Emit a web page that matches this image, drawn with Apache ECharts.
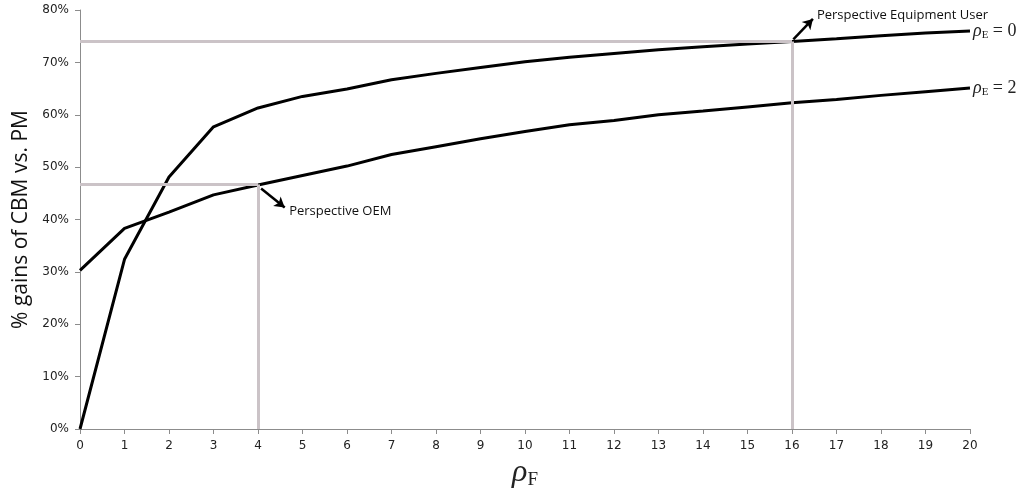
<!DOCTYPE html>
<html>
<head>
<meta charset="utf-8">
<script src="https://cdn.jsdelivr.net/npm/echarts@6/dist/echarts.min.js"></script>
<style>
  html, body { margin: 0; padding: 0; background: #fff; }
  #chart { width: 1032px; height: 492px; }
</style>
</head>
<body>
<div id="chart"></div>
<script>
// rho_F values on the x axis
var rhoF = [0,1,2,3,4,5,6,7,8,9,10,11,12,13,14,15,16,17,18,19,20];
// % gains, rho_E = 0
var gainsE0 = [0,32.4,48.1,57.7,61.3,63.5,64.9,66.7,67.9,69.0,70.1,71.0,71.7,72.4,73.0,73.5,74.0,74.5,75.1,75.6,76.0];
// % gains, rho_E = 2
var gainsE2 = [30.3,38.3,41.4,44.7,46.6,48.4,50.2,52.4,53.9,55.4,56.8,58.1,58.9,60.0,60.7,61.5,62.3,62.9,63.7,64.4,65.1];
var yTicks = [0,10,20,30,40,50,60,70,80];

// reference (perspective) points
var userPoint = [16, 74.0];
var oemPoint = [4, 46.7];

var pairs = function (ys) { return rhoF.map(function (x, i) { return [x, ys[i]]; }); };

var chart = echarts.init(document.getElementById('chart'));

var grey = '#cbc3c7';
var refLine = {lineStyle: {color: grey, width: 3, type: 'solid'}};

var endRich = {
  r: {fontFamily: 'Liberation Serif', fontStyle: 'italic', fontSize: 18, color: '#222'},
  s: {fontFamily: 'Liberation Serif', fontSize: 11, color: '#222', padding: [8, 0, 0, 0]},
  t: {fontFamily: 'Liberation Serif', fontSize: 18, color: '#222'}
};

var option = {
  animation: false,
  grid: {left: 80, right: 62, top: 10, bottom: 63, outerBoundsMode: 'none', containLabel: false},
  xAxis: {
    type: 'value', min: rhoF[0], max: rhoF[rhoF.length - 1], interval: 1,
    axisLine: {lineStyle: {color: '#8c8c8c', width: 1}},
    axisTick: {show: true, length: 5, lineStyle: {color: '#8c8c8c'}},
    axisLabel: {color: '#222', fontFamily: 'DejaVu Sans', fontSize: 12, margin: 11},
    splitLine: {show: false},
    name: '{r|ρ}{s|F}',
    nameLocation: 'middle',
    nameGap: 22,
    nameTextStyle: {
      rich: {
        r: {fontFamily: 'Liberation Serif', fontStyle: 'italic', fontSize: 32, color: '#222'},
        s: {fontFamily: 'Liberation Serif', fontSize: 19, color: '#222', padding: [14, 0, 0, 0]}
      }
    }
  },
  yAxis: {
    type: 'value', min: yTicks[0], max: yTicks[yTicks.length - 1], interval: 10,
    axisLine: {show: true, lineStyle: {color: '#8c8c8c', width: 1}},
    axisTick: {show: true, length: 5, lineStyle: {color: '#8c8c8c'}},
    axisLabel: {color: '#222', fontFamily: 'DejaVu Sans', fontSize: 12, margin: 11, formatter: '{value}%'},
    splitLine: {show: false},
    name: '% gains of CBM vs. PM',
    nameLocation: 'middle',
    nameGap: 47,
    nameTextStyle: {fontFamily: 'Open Sans', fontSize: 21, color: '#111'}
  },
  series: [
    {
      name: 'rhoE0', type: 'line', data: pairs(gainsE0), showSymbol: false,
      lineStyle: {color: '#000', width: 3}, z: 3,
      endLabel: {show: true, distance: 3, formatter: '{r|ρ}{s|E}{t| = 0}', rich: endRich}
    },
    {
      name: 'rhoE2', type: 'line', data: pairs(gainsE2), showSymbol: false,
      lineStyle: {color: '#000', width: 3}, z: 3,
      endLabel: {show: true, distance: 3, formatter: '{r|ρ}{s|E}{t| = 2}', rich: endRich}
    },
    {
      // grey guide lines + arrows + annotations
      name: 'guides', type: 'line', data: [], z: 2,
      markLine: {
        silent: true, symbol: ['none', 'none'], label: {show: false},
        data: [
          [{coord: [0, userPoint[1]], lineStyle: refLine.lineStyle}, {coord: userPoint}],
          [{coord: [userPoint[0], 0], lineStyle: refLine.lineStyle}, {coord: userPoint}],
          [{coord: [0, oemPoint[1]], lineStyle: refLine.lineStyle}, {coord: oemPoint}],
          [{coord: [oemPoint[0], 0], lineStyle: refLine.lineStyle}, {coord: oemPoint}],
          [{coord: [16.03, 74.4], symbol: 'none', lineStyle: {color: '#000', width: 2.5, type: 'solid'}},
           {coord: [16.47, 78.3], symbol: 'arrow', symbolSize: [9, 10]}],
          [{coord: [4.07, 45.9], symbol: 'none', lineStyle: {color: '#000', width: 2.5, type: 'solid'}},
           {coord: [4.6, 42.3], symbol: 'arrow', symbolSize: [9, 10]}]
        ]
      },
      markPoint: {
        silent: true, symbol: 'circle', symbolSize: 0,
        label: {show: true, position: 'right', distance: 0, color: '#111', fontFamily: 'Open Sans', fontSize: 13},
        data: [
          {coord: [16.56, 79.0], value: 'Perspective Equipment User', label: {formatter: 'Perspective Equipment User'}},
          {coord: [4.7, 41.6], value: 'Perspective OEM', label: {formatter: 'Perspective OEM'}}
        ]
      }
    }
  ]
};

chart.setOption(option);
</script>
</body>
</html>
